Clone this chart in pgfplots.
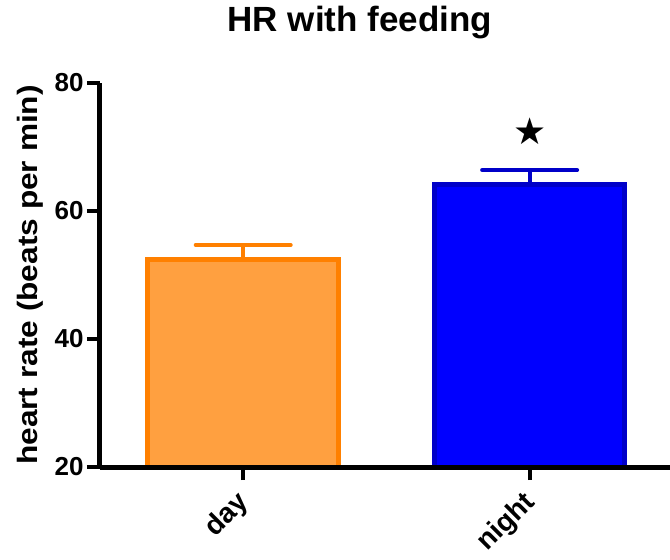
\documentclass[border=0pt]{standalone}
\usepackage{pgfplots}
\pgfplotsset{compat=1.18}
\usepackage{fontspec}
\usepackage{graphicx}
\setmainfont{Liberation Sans}
\newfontfamily\symfont{DejaVu Sans}

\definecolor{dayfill}{HTML}{FFA040}
\definecolor{dayedge}{HTML}{FF8000}
\definecolor{nightfill}{HTML}{0000FF}
\definecolor{nightedge}{HTML}{0000C8}

\begin{document}
\begin{tikzpicture}
\useasboundingbox (-100bp,-93bp) rectangle (570bp,467bp);
\begin{axis}[
  scale only axis, width=570bp, height=384bp,
  xmin=-0.5, xmax=1.49, ymin=20, ymax=80,
  axis x line*=bottom, axis y line*=left,
  axis line style={line width=5bp, -, line cap=square},
  axis on top,
  ytick={20,40,60,80},
  xtick={0,1}, xticklabels={day,night},
  tick align=outside, major tick length=13bp,
  every tick/.style={line width=4bp, black},
  /pgf/number format/assume math mode=true,
  yticklabel style={font=\fontsize{26bp}{30bp}\selectfont\bfseries},
  xticklabel style={font=\fontsize{28bp}{32bp}\selectfont\bfseries,
    xshift=4bp, yshift=-16bp, rotate=45, anchor=east},
  title={HR with feeding},
  title style={font=\fontsize{35bp}{40bp}\selectfont\bfseries,
    at={(axis description cs:0.456,1.119)}, anchor=base, inner sep=0pt},
  ylabel={\scalebox{1.13}[1]{heart rate (beats per min)}},
  ylabel style={font=\fontsize{28bp}{32bp}\selectfont\bfseries,
    at={(axis description cs:-0.1105,0.5)}, anchor=base, inner sep=0pt},
]
% day
\addplot[ybar, bar width=0.665, bar shift=0pt,
  fill=dayfill, draw=dayedge, line width=5bp,
  error bars/.cd, y dir=plus, y explicit,
  error bar style={line width=4bp, dayedge},
  error mark options={rotate=90, line width=4bp, dayedge, mark size=47.5bp, line cap=round}]
  coordinates {(0,52.4) +- (0,2.3)};
% night
\addplot[ybar, bar width=0.665, bar shift=0pt,
  fill=nightfill, draw=nightedge, line width=5bp,
  error bars/.cd, y dir=plus, y explicit,
  error bar style={line width=4bp, nightedge},
  error mark options={rotate=90, line width=4bp, nightedge, mark size=47.5bp, line cap=round}]
  coordinates {(1,64.1) +- (0,2.3)};
% significance marker
\addplot[only marks, mark=text, black,
  text mark={\fontsize{37bp}{37bp}\selectfont\symfont ★}]
  coordinates {(1,72.5)};
\end{axis}
\end{tikzpicture}
\end{document}
